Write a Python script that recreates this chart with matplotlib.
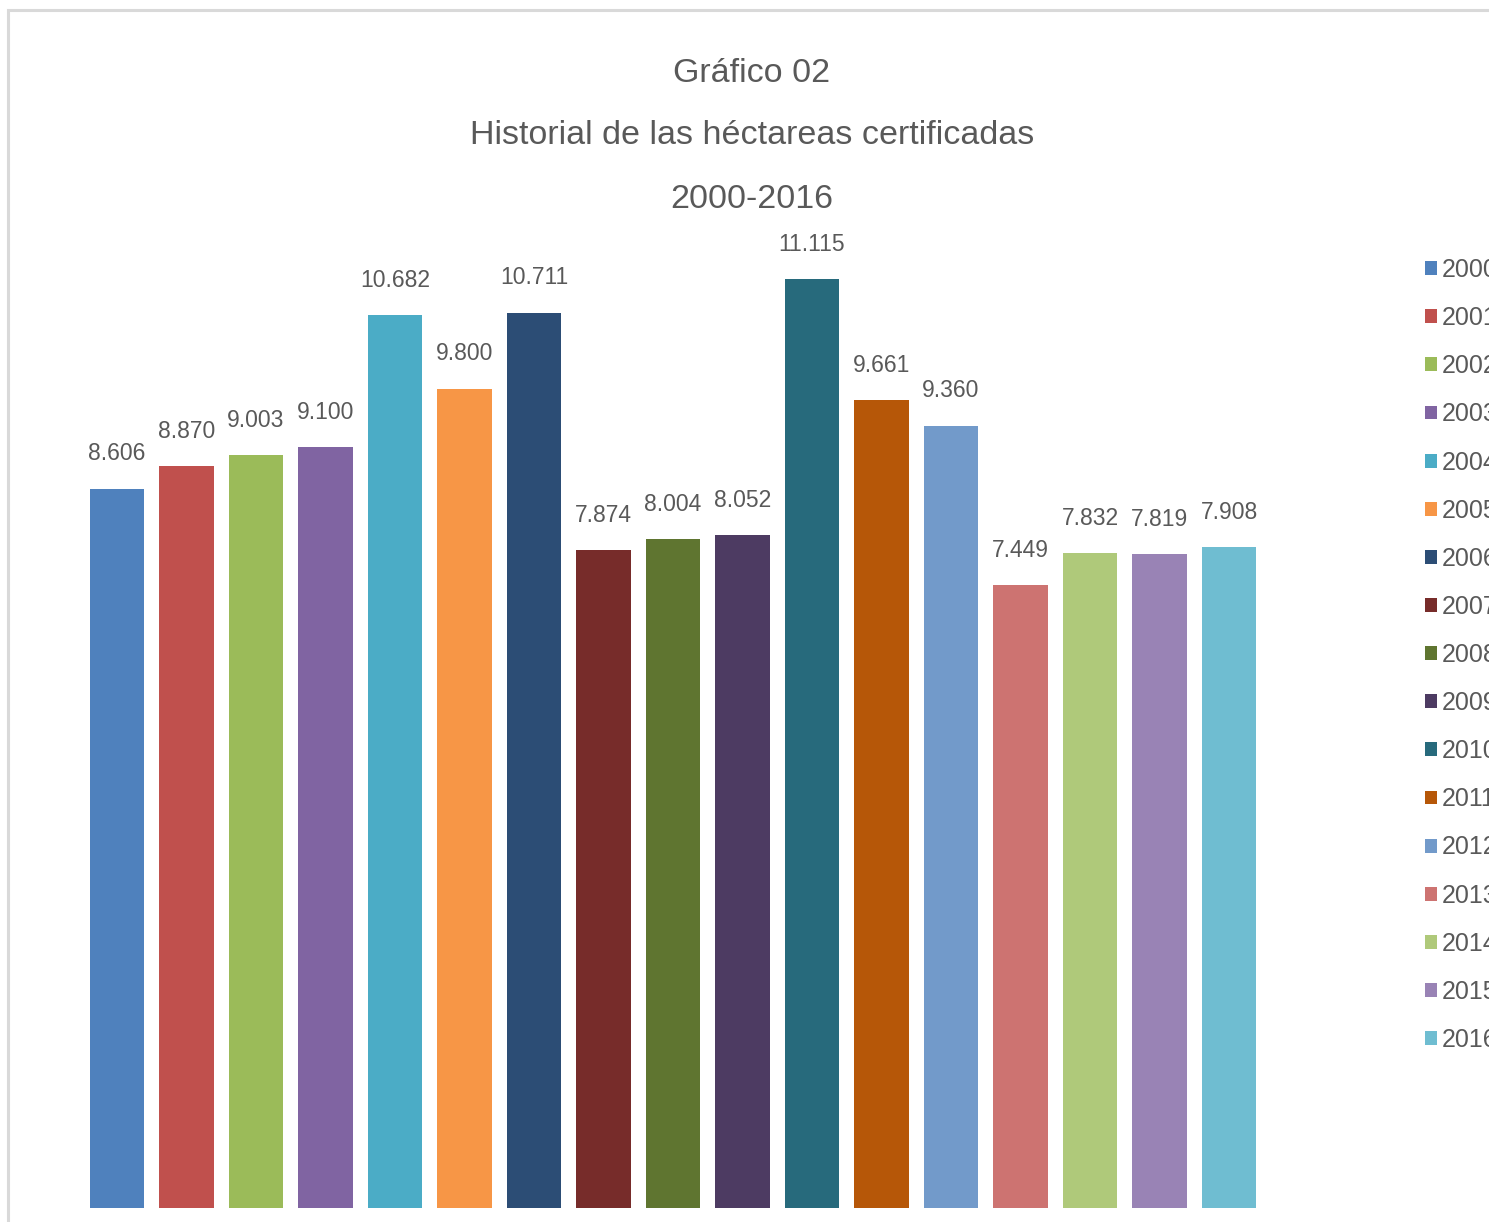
import matplotlib
matplotlib.use("Agg")
import matplotlib.pyplot as plt
from matplotlib.patches import Rectangle

years = ["2000", "2001", "2002", "2003", "2004", "2005", "2006", "2007", "2008",
         "2009", "2010", "2011", "2012", "2013", "2014", "2015", "2016"]
hectares = [8606, 8870, 9003, 9100, 10682, 9800, 10711, 7874, 8004,
            8052, 11115, 9661, 9360, 7449, 7832, 7819, 7908]
colors = ["#4F81BD", "#C0504D", "#9BBB59", "#8064A2", "#4BACC6", "#F79646",
          "#2C4D75", "#772C2A", "#5F7530", "#4D3B62", "#276A7C", "#B65708",
          "#729ACA", "#CD7371", "#AFC97A", "#9983B5", "#6FBDD1"]
title_lines = ["Gráfico 02", "Historial de las héctareas certificadas", "2000-2016"]

FONT = ["Liberation Sans Narrow", "Liberation Sans", "DejaVu Sans"]
plt.rcParams["font.family"] = FONT
GRAY = "#595959"

W, H = 1489, 1222
fig = plt.figure(figsize=(W / 100, H / 100), dpi=100)

# chart frame
fig.patches.append(Rectangle((8 / W, -0.05), 1.2, 1 - 10 / H + 0.05,
                             transform=fig.transFigure, fill=False,
                             edgecolor="#D9D9D9", linewidth=2.2, zorder=0))

left_px, right_px, top_px, bottom_px = 80, 1270, 230, 1208
ax = fig.add_axes([left_px / W, (H - bottom_px) / H,
                   (right_px - left_px) / W, (bottom_px - top_px) / H])
pitch = 69.5
ax.set_xlim(-(117 - left_px) / pitch, 16 + (right_px - 1229) / pitch)
ax.set_ylim(0, (bottom_px - top_px) / 83.6 * 1000)

x = list(range(len(years)))
bars = ax.bar(x, hectares, width=0.79, color=colors)
for b, bar in enumerate(bars):
    bar.set_label(years[b])
    v = hectares[b]
    ax.annotate(f"{v:,}".replace(",", "."), (bar.get_x() + bar.get_width() / 2, v),
                xytext=(0, 25), textcoords="offset points", ha="center", va="center",
                fontsize=16.5, color=GRAY)

ax.axis("off")

for i, t in enumerate(title_lines):
    fig.text(752 / W, 1 - (73 + 63 * i) / H, t, ha="center", va="center",
             fontsize=24.5, color=GRAY)

leg = fig.legend(handles=list(bars), labels=years, loc="upper left",
                 bbox_to_anchor=(1425 / W, 1 - 258 / H), frameon=False,
                 borderpad=0, borderaxespad=0, handlelength=0.48, handleheight=0.48,
                 handletextpad=0.2, labelspacing=0.965, fontsize=18, labelcolor=GRAY)

fig.savefig("out.png", dpi=100)
